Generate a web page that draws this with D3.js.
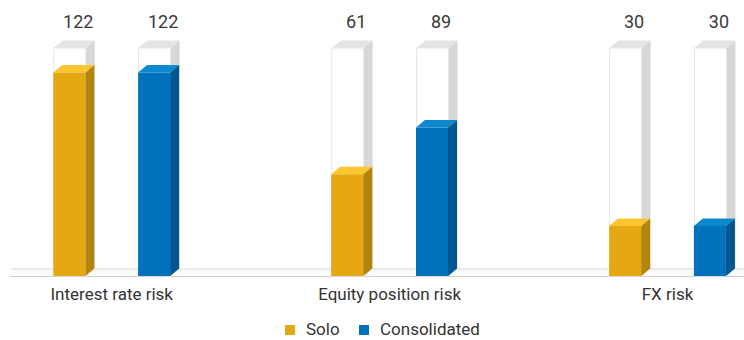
<!DOCTYPE html>
<html>
<head>
<meta charset="utf-8">
<script src="https://cdn.jsdelivr.net/npm/d3@7"></script>
<style>
  html, body { margin: 0; padding: 0; background: #fff; }
  svg { display: block; font-family: Roboto, "Noto Sans", sans-serif; }
</style>
</head>
<body>
<svg id="chart" width="744" height="340"></svg>
<script>
// Market risk capital requirements by risk type
const categories = ["Interest rate risk", "Equity position risk", "FX risk"];
const seriesNames = ["Solo", "Consolidated"];
const soloValues = [122, 61, 30];
const consolidatedValues = [122, 89, 30];
const axisMax = 137;

const palette = {
  Solo:         { front: "#E5A813", side: "#B3860B", top: "#FDC530" },
  Consolidated: { front: "#0071BB", side: "#00568F", top: "#0A89CF" }
};
const shell = { front: "#ffffff", edge: "#e6e6e6", side: "#d6d7d9", top: "#e3e4e6" };

const depthX = 9, depthY = 7.5;
const baseY = 276;

const rows = categories.map((c, i) => ({
  category: c,
  values: [
    { series: "Solo", value: soloValues[i] },
    { series: "Consolidated", value: consolidatedValues[i] }
  ]
}));

const svg = d3.select("#chart");

const x0 = d3.scalePoint().domain(categories).range([111.7, 667.5]);
const x1 = d3.scaleBand().domain(seriesNames).range([-58.4, 58.4]).paddingInner(0.6226);
const y = d3.scaleLinear().domain([0, axisMax]).range([baseY, 47.5]);
const bw = x1.bandwidth();

// floor plane
const floor = svg.append("g");
floor.append("polygon")
  .attr("points", `10,${baseY} 12,${baseY - depthY} 744,${baseY - depthY} 744,${baseY}`)
  .attr("fill", "#fbfbfb");
floor.append("line")
  .attr("x1", 12).attr("x2", 744)
  .attr("y1", baseY - depthY + 0.5).attr("y2", baseY - depthY + 0.5)
  .attr("stroke", "#e8e8e8").attr("stroke-width", 2);
floor.append("line")
  .attr("x1", 10).attr("x2", 744)
  .attr("y1", baseY + 0.5).attr("y2", baseY + 0.5)
  .attr("stroke", "#cfcfcf").attr("stroke-width", 1);

function prism(g, x, yTop, yBot, colors, stroke) {
  // side face
  g.append("polygon")
    .attr("points", [[x + bw, yBot], [x + bw, yTop], [x + bw + depthX, yTop - depthY], [x + bw + depthX, yBot - depthY]].map(p => p.join(",")).join(" "))
    .attr("fill", colors.side);
  // top face
  g.append("polygon")
    .attr("points", [[x, yTop], [x + depthX, yTop - depthY], [x + bw + depthX, yTop - depthY], [x + bw, yTop]].map(p => p.join(",")).join(" "))
    .attr("fill", colors.top);
  // front face
  const r = g.append("rect")
    .attr("x", x).attr("y", yTop)
    .attr("width", bw).attr("height", yBot - yTop)
    .attr("fill", colors.front);
  if (stroke) r.attr("stroke", stroke).attr("stroke-width", 1);
}

const groups = svg.selectAll("g.cat")
  .data(rows)
  .join("g")
  .attr("class", "cat")
  .attr("transform", d => `translate(${x0(d.category)},0)`);

groups.each(function (row) {
  const g = d3.select(this);
  row.values.forEach(v => {
    const bx = x1(v.series);
    const bar = g.append("g");
    // empty container up to the axis maximum
    prism(bar, bx + 0.5, y(axisMax) + 0.5, baseY, shell, shell.edge);
    // filled value bar
    prism(bar, bx, y(v.value), baseY, palette[v.series], null);
    // value label above the container
    bar.append("text")
      .attr("x", bx + bw / 2 + depthX)
      .attr("y", 28)
      .attr("text-anchor", "middle")
      .attr("font-size", 18)
      .attr("fill", "#3a3a3a")
      .text(v.value);
  });
  g.append("text")
    .attr("x", 0)
    .attr("y", 300)
    .attr("text-anchor", "middle")
    .attr("font-size", 17)
    .attr("fill", "#333")
    .text(row.category);
});

// legend
const legend = svg.append("g").attr("transform", "translate(285,335)");
const items = [
  { name: "Solo", x: 0 },
  { name: "Consolidated", x: 74 }
];
items.forEach(it => {
  legend.append("rect")
    .attr("x", it.x).attr("y", -10)
    .attr("width", 10).attr("height", 10)
    .attr("fill", palette[it.name].front);
  legend.append("text")
    .attr("x", it.x + 21).attr("y", 0)
    .attr("font-size", 17)
    .attr("fill", "#333")
    .text(it.name);
});
</script>
</body>
</html>
